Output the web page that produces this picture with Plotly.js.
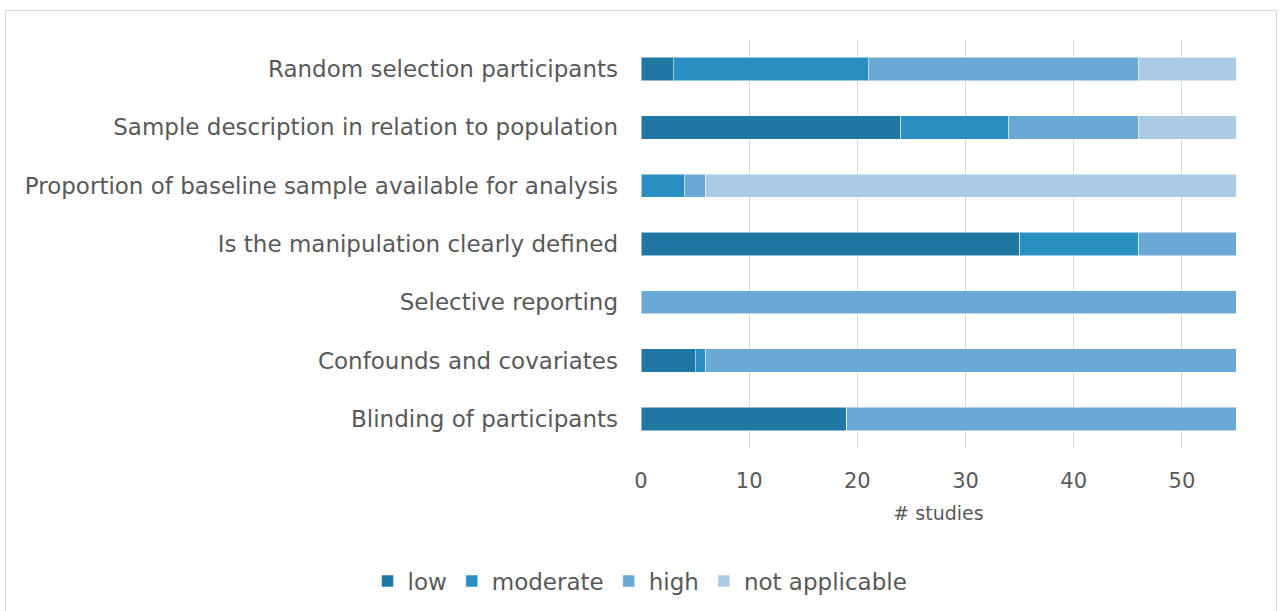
<!DOCTYPE html>
<html>
<head>
<meta charset="utf-8">
<script src="https://cdn.plot.ly/plotly-3.0.1.min.js"></script>
<style>
  html, body { margin: 0; padding: 0; background: #ffffff; }
  #chart { width: 1280px; height: 611px; }
  #frame { position: absolute; left: 5px; top: 10px; width: 1270px; height: 640px; border: 1px solid #d9d9d9; pointer-events: none; }
</style>
</head>
<body>
<div id="chart"></div>
<div id="frame"></div>
<script>
const categories = [
  "Random selection participants",
  "Sample description in relation to population",
  "Proportion of baseline sample available for analysis",
  "Is the manipulation clearly defined",
  "Selective reporting",
  "Confounds and covariates",
  "Blinding of participants"
];
const seriesNames = ["low", "moderate", "high", "not applicable"];
const lowValues      = [3, 24, 0, 35, 0, 5, 19];
const moderateValues = [18, 10, 4, 11, 0, 1, 0];
const highValues     = [25, 12, 2, 9, 55, 49, 36];
const naValues       = [9, 9, 49, 0, 0, 0, 0];
const xTickValues = [0, 10, 20, 30, 40, 50];

const colors = ["#1f78a4", "#2b8ec2", "#6aa9d5", "#abcbe4"];
const allValues = [lowValues, moderateValues, highValues, naValues];

const font = "'Century Gothic', 'DejaVu Sans', sans-serif";

const traces = allValues.map((vals, i) => ({
  type: "bar",
  orientation: "h",
  name: seriesNames[i],
  y: categories,
  x: vals,
  marker: { color: colors[i], line: { color: "rgba(255,255,255,0.5)", width: 1 } },
  hoverinfo: "x+y+name"
}));

const layout = {
  width: 1280,
  height: 611,
  barmode: "stack",
  bargap: 0.6,
  paper_bgcolor: "#ffffff",
  plot_bgcolor: "#ffffff",
  margin: { l: 641, r: 44, t: 40, b: 163, autoexpand: false },
  font: { family: font, color: "#595959", size: 20 },
  xaxis: {
    range: [0, 55],
    tickvals: xTickValues,
    ticktext: xTickValues.map(String),
    showgrid: true,
    gridcolor: "#d9d9d9",
    gridwidth: 1,
    zeroline: false,
    showline: false,
    ticks: "",
    automargin: false,
    ticklabelstandoff: 18,
    tickfont: { size: 21, color: "#595959" },
    title: { text: "# studies", font: { size: 19, color: "#595959" }, standoff: 14 }
  },
  yaxis: {
    autorange: "reversed",
    showgrid: false,
    zeroline: false,
    showline: false,
    ticks: "",
    automargin: false,
    ticklabelstandoff: 22,
    tickfont: { size: 23, color: "#595959" }
  },
  legend: {
    orientation: "h",
    xref: "container",
    yref: "container",
    x: 0.5,
    xanchor: "center",
    y: 0.049,
    yanchor: "middle",
    font: { size: 23, color: "#595959" },
    traceorder: "normal"
  },
  showlegend: true
};

Plotly.newPlot("chart", traces, layout, { displayModeBar: false, responsive: false });
</script>
</body>
</html>
